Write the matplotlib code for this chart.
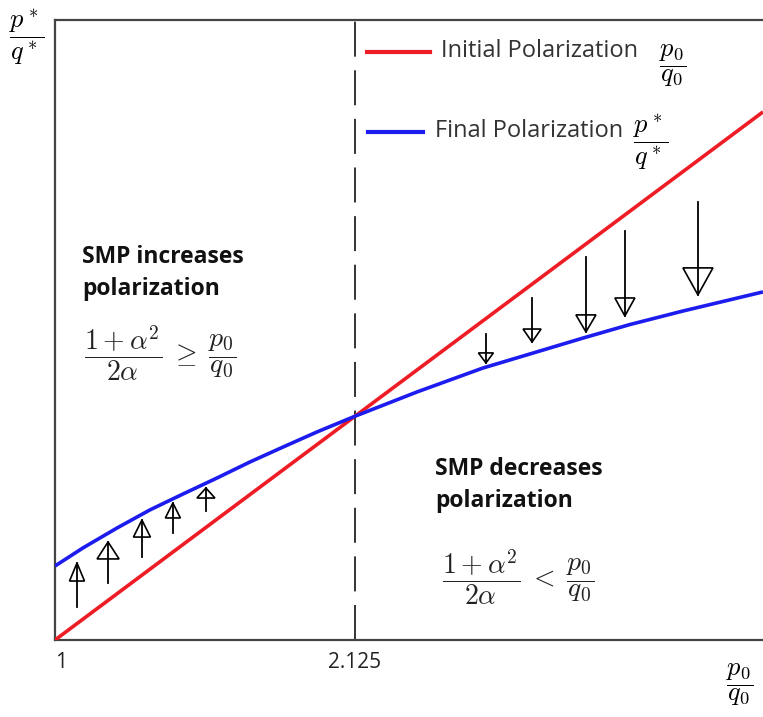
import matplotlib
matplotlib.use("Agg")
import matplotlib.pyplot as plt
from matplotlib.patches import Polygon

plt.rcParams['mathtext.fontset'] = 'cm'
plt.rcParams['font.family'] = ['Open Sans', 'DejaVu Sans']

# ---- data ----
x_initial = [1.0, 3.655]
y_initial = [1.0, 3.655]

x_final = [1.0, 1.105, 1.2325, 1.356, 1.48, 1.6075, 1.731, 1.855, 1.9825, 2.125,
           2.3575, 2.605, 2.781, 2.98, 3.156, 3.355, 3.655]
y_final = [1.372, 1.463, 1.563, 1.654, 1.734, 1.8145, 1.895, 1.970, 2.046, 2.125,
           2.247, 2.3675, 2.438, 2.518, 2.586, 2.654, 2.750]

threshold = 2.125

up_x = [1.0825, 1.199, 1.326, 1.442, 1.566]
up_start = [1.166, 1.287, 1.417, 1.538, 1.649]
up_end = [1.387, 1.493, 1.603, 1.689, 1.764]

down_x = [2.616, 2.789, 2.991, 3.137, 3.411]
down_start = [2.538, 2.719, 2.926, 3.056, 3.202]
down_end = [2.393, 2.498, 2.549, 2.629, 2.735]

xtick_vals = [1, 2.125]
xtick_labels = ['1', '2.125']

# ---- style ----
up_head = [(15, 18), (22, 17), (17, 17), (15, 15), (18, 10)]
down_head = [(15, 10), (18, 13), (20, 17), (20, 18), (30, 27)]

W, H = 763, 717
fig = plt.figure(figsize=(W / 100, H / 100), dpi=100)
ax = fig.add_axes([55 / W, (H - 640) / H, 708 / W, 620 / H])
ax.set_xlim(1, 3.655)
ax.set_ylim(1, 4.117)

for s in ['left', 'top', 'bottom']:
    ax.spines[s].set_color('#444444')
    ax.spines[s].set_linewidth(1.6)
ax.spines['right'].set_visible(False)

ax.plot(x_initial, y_initial, color='#ee1c24', lw=2.6, solid_capstyle='butt', zorder=3)
ax.plot(x_final, y_final, color='#1c1cee', lw=2.6, solid_capstyle='butt',
        solid_joinstyle='round', zorder=3)
ax.axvline(threshold, color='#333333', lw=1.4, dashes=(18, 7))

ax.set_xticks(xtick_vals)
ax.set_xticklabels(xtick_labels, fontsize=15, color='#222222')
ax.tick_params(axis='x', length=0, pad=9)
ax.get_xticklabels()[0].set_horizontalalignment('left')
ax.set_yticks([])

fig.canvas.draw()


def draw_arrow(x, y0, y1, hw, hl):
    ax.plot([x, x], [y0, y1], color='black', lw=1.3, zorder=4)
    tx, ty = ax.transData.transform((x, y1))
    sgn = 1 if y1 > y0 else -1
    bx = ty - sgn * hl
    pts = [(tx, ty), (tx - hw / 2, bx), (tx + hw / 2, bx)]
    poly = Polygon(pts, closed=True, fill=False, edgecolor='black', lw=1.2,
                   transform=None, zorder=4)
    fig.add_artist(poly)


for x, a, b, (hw, hl) in zip(up_x, up_start, up_end, up_head):
    draw_arrow(x, a, b, hw, hl)
for x, a, b, (hw, hl) in zip(down_x, down_start, down_end, down_head):
    draw_arrow(x, a, b, hw, hl)


def ftext(px, py, s, **kw):
    fig.text(px / W, 1 - py / H, s, **kw)


# axis labels
ftext(27, 37, r'$\dfrac{p^*}{q^*}$', fontsize=19, ha='center', va='center')
ftext(740, 685, r'$\dfrac{p_0}{q_0}$', fontsize=19, ha='center', va='center')

# legend
legend_lines = [((367, 430), 52, '#ee1c24'), ((368, 423), 132, '#1c1cee')]
for (xa, xb), yy, c in legend_lines:
    fig.add_artist(plt.Line2D([xa / W, xb / W], [1 - yy / H, 1 - yy / H],
                              color=c, lw=3, transform=fig.transFigure))
ftext(441, 51, 'Initial Polarization', fontsize=17, ha='left', va='center', color='#333333')
ftext(673, 66, r'$\dfrac{p_0}{q_0}$', fontsize=19, ha='center', va='center')
ftext(435, 131, 'Final Polarization', fontsize=17, ha='left', va='center', color='#333333')
ftext(651, 142, r'$\dfrac{p^*}{q^*}$', fontsize=19, ha='center', va='center')

# region annotations
ftext(82, 273, 'SMP increases\npolarization', fontsize=16.5, fontweight='bold',
      ha='left', va='center', linespacing=1.4, color='#111111')
ftext(84, 353, r'$\dfrac{1+\alpha^2}{2\alpha}\;\geq\;\dfrac{p_0}{q_0}$', fontsize=20,
      ha='left', va='center', color='#222222')
ftext(435, 485, 'SMP decreases\npolarization', fontsize=16.5, fontweight='bold',
      ha='left', va='center', linespacing=1.4, color='#111111')
ftext(442, 577, r'$\dfrac{1+\alpha^2}{2\alpha}\;<\;\dfrac{p_0}{q_0}$', fontsize=20,
      ha='left', va='center', color='#222222')

fig.savefig('out.png', dpi=100)
